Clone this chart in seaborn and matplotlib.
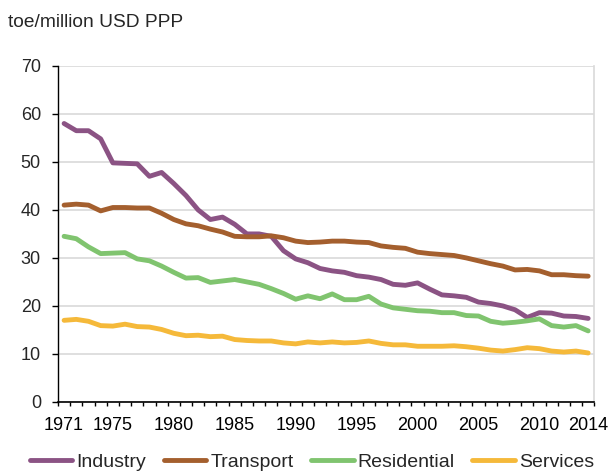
import numpy as np
import pandas as pd
import matplotlib
matplotlib.use("Agg")
import matplotlib.pyplot as plt
import seaborn as sns

years = list(range(1971, 2015))
industry = [58, 56.5, 56.5, 54.8, 49.8, 49.7, 49.6, 47, 47.8, 45.5, 43, 40, 38, 38.5, 37,
            35, 35, 34.5, 31.5, 29.8, 29, 27.8, 27.3, 27, 26.3, 26, 25.5, 24.5, 24.3, 24.8,
            23.5, 22.3, 22.1, 21.8, 20.8, 20.5, 20, 19.2, 17.6, 18.6, 18.5, 17.9, 17.8, 17.4]
transport = [41, 41.2, 41, 39.8, 40.5, 40.5, 40.4, 40.4, 39.3, 38, 37.1, 36.7, 36, 35.4, 34.5,
             34.4, 34.4, 34.6, 34.2, 33.5, 33.2, 33.3, 33.5, 33.5, 33.3, 33.2, 32.5, 32.2, 32, 31.2,
             30.9, 30.7, 30.5, 30, 29.4, 28.8, 28.3, 27.5, 27.6, 27.3, 26.5, 26.5, 26.3, 26.2]
residential = [34.5, 34, 32.3, 30.9, 31, 31.1, 29.8, 29.4, 28.3, 27, 25.8, 25.9, 24.9, 25.2, 25.5,
               25, 24.5, 23.6, 22.6, 21.4, 22.1, 21.5, 22.5, 21.3, 21.3, 22, 20.4, 19.6, 19.3, 19,
               18.9, 18.6, 18.6, 18, 17.9, 16.8, 16.4, 16.6, 16.9, 17.3, 15.9, 15.6, 15.9, 14.8]
services = [17, 17.2, 16.8, 15.9, 15.8, 16.2, 15.7, 15.6, 15.1, 14.3, 13.8, 13.9, 13.6, 13.7, 13,
            12.8, 12.7, 12.7, 12.3, 12.1, 12.5, 12.3, 12.5, 12.3, 12.4, 12.7, 12.2, 11.9, 11.9, 11.6,
            11.6, 11.6, 11.7, 11.5, 11.2, 10.8, 10.6, 10.9, 11.3, 11.1, 10.6, 10.4, 10.6, 10.2]
sectors = ["Industry", "Transport", "Residential", "Services"]
xtick_labels = [1971, 1975, 1980, 1985, 1990, 1995, 2000, 2005, 2010, 2014]

df = pd.DataFrame({"year": years, "Industry": industry, "Transport": transport,
                   "Residential": residential, "Services": services})
long_df = df.melt(id_vars="year", var_name="sector", value_name="value")

sns.set_style("white")
plt.rcParams["font.family"] = ["Liberation Sans", "DejaVu Sans"]

palette = {"Industry": "#8b5384", "Transport": "#a45f2e",
           "Residential": "#80c46f", "Services": "#f5b93a"}

fig = plt.figure(figsize=(6.08, 4.74), dpi=100)
ax = fig.add_axes([0.0954, 0.152, 0.882, 0.709])
sns.lineplot(data=long_df, x="year", y="value", hue="sector", hue_order=sectors,
             palette=palette, linewidth=3.5, ax=ax, legend=False)

ax.set_xlim(1970.5, 2014.5)
ax.set_ylim(0, 70)
ax.set_yticks(range(0, 71, 10))
ax.yaxis.grid(True, color="#d9d9d9", linewidth=1.2)
ax.set_axisbelow(True)
ax.set_xticks(xtick_labels)
ax.set_xticklabels([str(y) for y in xtick_labels])
ax.set_xticks(np.arange(1970.5, 2015, 1), minor=True)
ax.tick_params(axis="x", which="major", length=0, pad=11, labelsize=13, colors="black")
ax.tick_params(axis="x", which="minor", length=3, width=1, color="black", direction="out", bottom=True)
ax.tick_params(axis="y", length=4.3, width=1, color="black", direction="out", left=True,
               labelsize=13, pad=8)
ax.set_xlabel("")
ax.set_ylabel("")

ax.spines["top"].set_visible(False)
ax.spines["right"].set_color("#d9d9d9")
ax.spines["right"].set_linewidth(1.2)
ax.spines["left"].set_color("black")
ax.spines["bottom"].set_color("black")
ax.spines["left"].set_linewidth(1)
ax.spines["bottom"].set_linewidth(1.2)

fig.text(0.013, 0.953, "toe/million USD PPP", fontsize=13.8, ha="left", va="center")

handles = [plt.Line2D([], [], color=palette[s], linewidth=3.5) for s in sectors]
fig.legend(handles, sectors, loc="center", bbox_to_anchor=(0.513, 0.025), ncol=4,
           frameon=False, fontsize=14, handlelength=2.2, handletextpad=0.2, columnspacing=0.9)

fig.savefig("out.png", dpi=100)
